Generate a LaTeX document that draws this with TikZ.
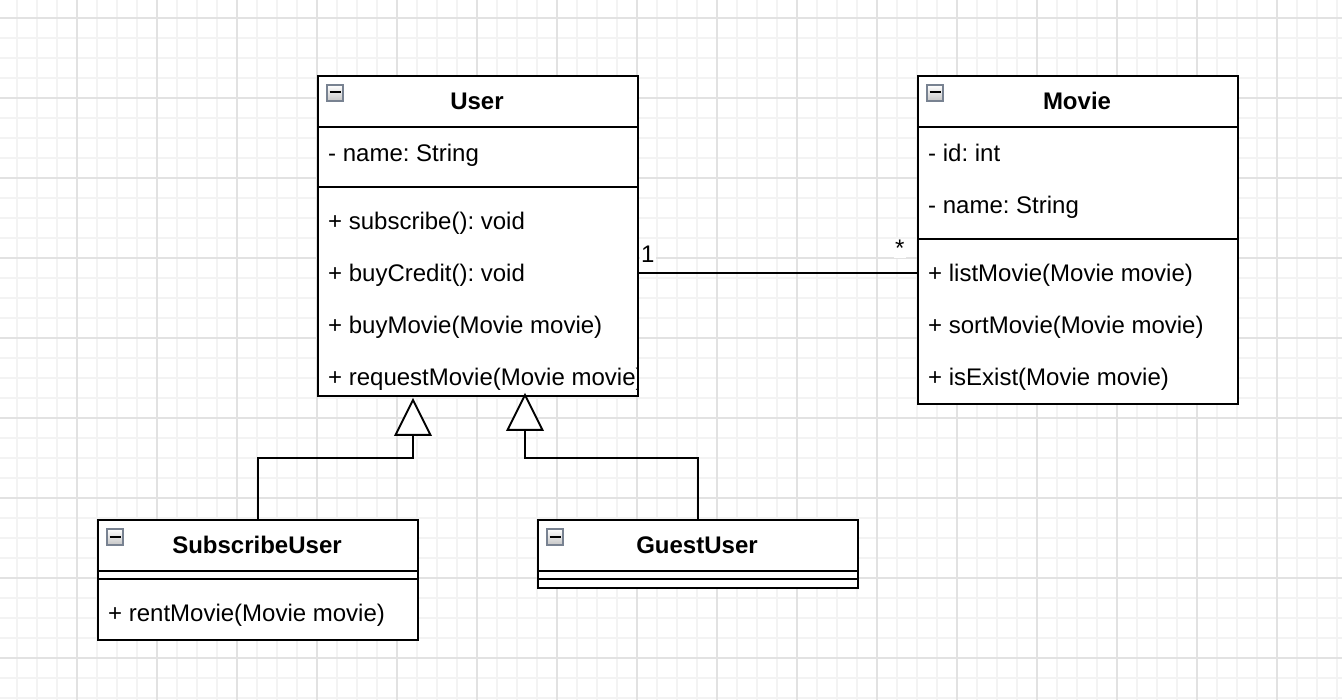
\documentclass[tikz,border=0pt]{standalone}
\usepackage{fontspec}
\setmainfont{Liberation Sans}
\usetikzlibrary{calc}
\definecolor{gridminor}{RGB}{243,243,243}
\definecolor{gridmajor}{RGB}{226,226,226}
\definecolor{iconborder}{RGB}{120,130,145}
\begin{document}
\frenchspacing
\begin{tikzpicture}[x=1pt,y=-1pt,
  umlbox/.style={draw=black, fill=white, line width=2pt, anchor=north west, minimum width=320pt, inner sep=0pt},
  umlline/.style={draw=black, line width=2pt},
  rowtext/.style={anchor=base west, inner sep=0pt, font=\fontsize{24}{28}\selectfont},
  headtext/.style={anchor=base, inner sep=0pt, font=\fontsize{24}{28}\selectfont\bfseries},
  labeltext/.style={anchor=base west, inner sep=1pt, fill=white, font=\fontsize{24}{28}\selectfont},
  collapse/.pic={
    \draw[iconborder, line width=1.5pt, top color=white, bottom color=gray!45] (0,0) rectangle (16,16);
    \draw[black, line width=2pt] (2.5,7.5) -- (13.5,7.5);
  }]
\useasboundingbox (0,0) rectangle (1342,700);
\fill[white] (0,0) rectangle (1342,700);
% grid
\foreach \x in {17,37,...,1337} \draw[gridminor, line width=1.5pt] (\x,0) -- (\x,700);
\foreach \y in {18,38,...,698} \draw[gridminor, line width=1.5pt] (0,\y) -- (1342,\y);
\foreach \x in {77,157,...,1317} \draw[gridmajor, line width=1.5pt] (\x,0) -- (\x,700);
\foreach \y in {18,98,...,658} \draw[gridmajor, line width=1.5pt] (0,\y) -- (1342,\y);

% ---------- User ----------
\node[umlbox, minimum height=320pt] (user) at (317,75) {};
\draw[umlline] ($(user.north west)+(0,52)$) -- ($(user.north east)+(0,52)$);
\draw[umlline] ($(user.north west)+(0,112)$) -- ($(user.north east)+(0,112)$);
\pic at (327,85) {collapse};
\node[headtext] (userh) at (477,109.5) {User};
\node[rowtext] (ua1) at (328,161.5) {- name: String};
\node[rowtext] (um1) at (328,229.5) {+ subscribe(): void};
\node[rowtext] (um2) at (328,281.5) {+ buyCredit(): void};
\node[rowtext] (um3) at (328,333.5) {+ buyMovie(Movie movie)};
\begin{scope}
  \clip (318,351) rectangle (636,394);
  \node[rowtext] (um4) at (328,385.5) {+ requestMovie(Movie movie)};
\end{scope}

% ---------- Movie ----------
\node[umlbox, minimum height=328pt] (movie) at (917,75) {};
\draw[umlline] ($(movie.north west)+(0,52)$) -- ($(movie.north east)+(0,52)$);
\draw[umlline] ($(movie.north west)+(0,164)$) -- ($(movie.north east)+(0,164)$);
\pic at (927,85) {collapse};
\node[headtext] (movieh) at (1077,109.5) {Movie};
\node[rowtext] (ma1) at (928,161.5) {- id: int};
\node[rowtext] (ma2) at (928,213.5) {- name: String};
\node[rowtext] (mm1) at (928,281.5) {+ listMovie(Movie movie)};
\node[rowtext] (mm2) at (928,333.5) {+ sortMovie(Movie movie)};
\node[rowtext] (mm3) at (928,385.5) {+ isExist(Movie movie)};

% ---------- SubscribeUser ----------
\node[umlbox, minimum height=120pt] (sub) at (97,519) {};
\draw[umlline] ($(sub.north west)+(0,52)$) -- ($(sub.north east)+(0,52)$);
\draw[umlline] ($(sub.north west)+(0,60)$) -- ($(sub.north east)+(0,60)$);
\pic at (107,529) {collapse};
\node[headtext] (subh) at (257,553.5) {SubscribeUser};
\node[rowtext] (sm1) at (108,621.5) {+ rentMovie(Movie movie)};

% ---------- GuestUser ----------
\node[umlbox, minimum height=68pt] (guest) at (537,519) {};
\draw[umlline] ($(guest.north west)+(0,52)$) -- ($(guest.north east)+(0,52)$);
\draw[umlline] ($(guest.north west)+(0,60)$) -- ($(guest.north east)+(0,60)$);
\pic at (547,529) {collapse};
\node[headtext] (guesth) at (697,553.5) {GuestUser};

% ---------- association ----------
\coordinate (assocU) at (637,273);
\coordinate (assocM) at (917,273);
\draw[umlline] (assocU) -- (assocM);
\node[labeltext] (mult1) at (640,263) {1};
\node[labeltext] (multn) at (894,257) {*};

% ---------- generalisations ----------
\coordinate (tipA) at (413,400);
\coordinate (baseA) at (413,435);
\coordinate (elbA) at (413,458);
\draw[umlline, line join=miter] (sub.north) |- (elbA) -- (baseA);
\draw[umlline, fill=white, line join=miter] (tipA) -- ++(-17.5,35) -- ++(35,0) -- cycle;

\coordinate (tipB) at (525,395);
\coordinate (baseB) at (525,430);
\coordinate (elbB) at (525,458);
\draw[umlline, line join=miter] (guest.north) |- (elbB) -- (baseB);
\draw[umlline, fill=white, line join=miter] (tipB) -- ++(-17.5,35) -- ++(35,0) -- cycle;
\end{tikzpicture}
\end{document}
